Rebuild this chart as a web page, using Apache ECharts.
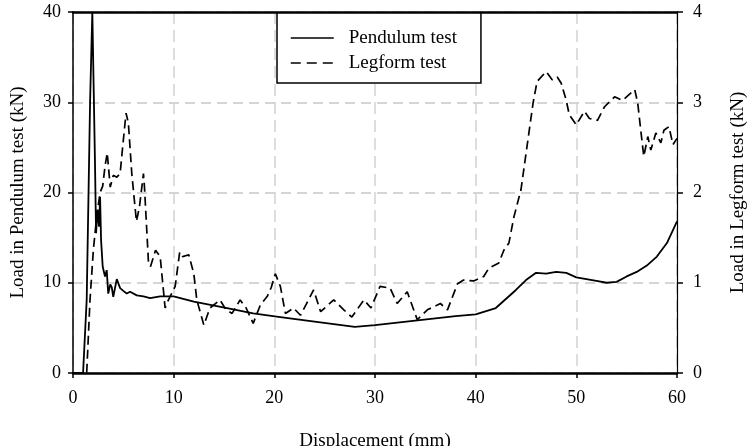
<!DOCTYPE html>
<html>
<head>
<meta charset="utf-8">
<script src="https://cdn.jsdelivr.net/npm/echarts@6/dist/echarts.min.js"></script>
<style>html,body{margin:0;padding:0;background:#fff;}#c{width:748px;height:446px;}</style>
</head>
<body>
<div id="c"></div>
<script>
// Pendulum test (left axis, kN)
var pendX = [0, 1.0, 1.36, 1.7, 1.92, 2.09, 2.19, 2.29, 2.45, 2.59, 2.69, 2.79, 2.95, 3.18, 3.35, 3.5, 3.7, 3.85, 4.0, 4.35, 4.68, 5.0, 5.34, 5.67, 6.34, 7.0, 7.66, 8.66, 10.0, 12.0, 15.3, 17.9, 20.6, 24, 28, 30, 34, 38, 40, 42, 44, 45, 46, 47, 48, 49, 50, 51, 52, 53, 54, 55, 56, 57, 58, 59, 60];
var pendY = [0, 0, 8.1, 30.2, 40, 40, 22.9, 15.5, 18.1, 16.2, 19.5, 14.7, 11.8, 10.7, 11.4, 8.8, 9.8, 9.5, 8.45, 10.4, 9.4, 9.1, 8.8, 9.0, 8.6, 8.5, 8.3, 8.5, 8.5, 7.9, 7.2, 6.6, 6.2, 5.7, 5.1, 5.3, 5.8, 6.3, 6.5, 7.2, 9.2, 10.3, 11.1, 11.0, 11.2, 11.1, 10.6, 10.4, 10.2, 10.0, 10.1, 10.7, 11.2, 11.9, 12.9, 14.4, 16.8];
// Legform test (right axis, kN)
var legX = [0, 1.36, 1.69, 2.02, 2.35, 2.69, 2.95, 3.18, 3.4, 3.7, 4.0, 4.35, 4.68, 5.0, 5.27, 5.5, 5.84, 6.3, 6.6, 7.0, 7.1, 7.5, 7.7, 8.2, 8.66, 9.15, 9.4, 10.15, 10.6, 10.9, 11.5, 12.0, 12.3, 13.0, 13.6, 14.6, 15.2, 15.8, 16.6, 17.2, 17.9, 18.6, 19.3, 19.7, 20.1, 20.6, 21.1, 21.9, 22.6, 23.9, 24.6, 25.9, 26.9, 27.7, 28.9, 29.6, 30.5, 31.5, 32.2, 33.2, 34.2, 35.2, 36.5, 37.2, 38.2, 38.8, 39.8, 40.8, 41.3, 42.3, 42.8, 43.3, 43.8, 44.5, 45.1, 45.7, 46.1, 47.0, 47.6, 48.1, 48.5, 49.0, 49.3, 50.0, 50.8, 51.3, 52.1, 52.8, 53.8, 54.6, 55.8, 56.1, 56.4, 56.7, 57.1, 57.4, 57.9, 58.4, 58.7, 59.2, 59.6, 60.0];
var legY = [0, 0, 0.81, 1.36, 1.73, 2.0, 2.07, 2.29, 2.44, 2.06, 2.19, 2.17, 2.21, 2.58, 2.88, 2.77, 2.21, 1.68, 1.84, 2.21, 2.06, 1.22, 1.18, 1.36, 1.29, 0.72, 0.79, 0.96, 1.34, 1.29, 1.31, 1.10, 0.81, 0.53, 0.72, 0.81, 0.70, 0.66, 0.81, 0.72, 0.55, 0.75, 0.85, 0.95, 1.10, 0.96, 0.66, 0.72, 0.64, 0.92, 0.68, 0.81, 0.70, 0.62, 0.81, 0.72, 0.96, 0.94, 0.77, 0.90, 0.59, 0.70, 0.77, 0.70, 0.99, 1.03, 1.02, 1.07, 1.16, 1.22, 1.36, 1.44, 1.73, 2.03, 2.51, 2.99, 3.23, 3.34, 3.25, 3.28, 3.21, 3.02, 2.86, 2.75, 2.90, 2.82, 2.80, 2.95, 3.06, 3.02, 3.14, 2.99, 2.69, 2.40, 2.62, 2.47, 2.66, 2.55, 2.69, 2.73, 2.53, 2.60];
var xTicks = [0, 10, 20, 30, 40, 50, 60];
var leftTicks = [0, 10, 20, 30, 40];
var rightTicks = [0, 1, 2, 3, 4];

function pairs(xs, ys) { return xs.map(function (x, i) { return [x, ys[i]]; }); }

var font = 'Liberation Serif, Times New Roman, serif';
var chart = echarts.init(document.getElementById('c'), null, { renderer: 'canvas' });
chart.setOption({
  animation: false,
  backgroundColor: '#fff',
  grid: { left: 73, right: 71, top: 12, bottom: 73, containLabel: false, outerBoundsMode: 'none' },
  legend: {
    orient: 'vertical',
    left: 277, top: 13,
    padding: [15, 24, 10, 13],
    itemGap: 5,
    itemWidth: 43, itemHeight: 14,
    borderColor: '#000', borderWidth: 1.5,
    backgroundColor: '#fff',
    itemStyle: { opacity: 0 },
    textStyle: { fontFamily: font, fontSize: 19, color: '#000', lineHeight: 20, padding: [0, 0, 0, 10] },
    data: [
      { name: 'Pendulum test', lineStyle: { color: '#000', width: 1.5, type: 'solid' } },
      { name: 'Legform test', lineStyle: { color: '#000', width: 1.5, type: [10, 6] } }
    ]
  },
  xAxis: [{
    type: 'value', min: xTicks[0], max: xTicks[xTicks.length - 1], interval: 10,
    name: 'Displacement (mm)', nameLocation: 'middle', nameGap: 59,
    nameTextStyle: { fontFamily: font, fontSize: 19, color: '#000' },
    axisLine: { show: true, onZero: false, lineStyle: { color: '#000', width: 2.5 } },
    axisTick: { show: true, inside: false, length: 5, lineStyle: { color: '#000', width: 1.5 } },
    axisLabel: { fontFamily: font, fontSize: 18, color: '#000', margin: 16 },
    splitLine: { show: true, lineStyle: { color: '#d2d2d2', width: 1.5, type: [12, 6] } }
  }, {
    type: 'value', position: 'top', min: 0, max: 60, interval: 10,
    axisLine: { show: true, onZero: false, lineStyle: { color: '#000', width: 2.5 } },
    axisTick: { show: false }, axisLabel: { show: false }, splitLine: { show: false }
  }],
  yAxis: [{
    type: 'value', min: leftTicks[0], max: leftTicks[leftTicks.length - 1], interval: 10,
    name: 'Load in Pendulum test (kN)', nameLocation: 'middle', nameGap: 45, nameRotate: 90,
    nameTextStyle: { fontFamily: font, fontSize: 19, color: '#000' },
    axisLine: { show: true, onZero: false, lineStyle: { color: '#000', width: 1.5 } },
    axisTick: { show: true, length: 5, lineStyle: { color: '#000', width: 1.5 } },
    axisLabel: { fontFamily: font, fontSize: 18, color: '#000', margin: 12 },
    splitLine: { show: true, lineStyle: { color: '#c8c8c8', width: 1.5, type: [10, 6] } }
  }, {
    type: 'value', position: 'right', min: rightTicks[0], max: rightTicks[rightTicks.length - 1], interval: 1,
    name: 'Load in Legform test (kN)', nameLocation: 'middle', nameGap: 52, nameRotate: 90,
    nameTextStyle: { fontFamily: font, fontSize: 19, color: '#000' },
    axisLine: { show: true, onZero: false, lineStyle: { color: '#000', width: 1.2 } },
    axisTick: { show: true, length: 6, lineStyle: { color: '#000', width: 1.5 } },
    axisLabel: { fontFamily: font, fontSize: 18, color: '#000', margin: 16 },
    splitLine: { show: false }
  }],
  series: [{
    name: 'Pendulum test', type: 'line', xAxisIndex: 0, yAxisIndex: 0,
    data: pairs(pendX, pendY), showSymbol: false, symbol: 'none',
    lineStyle: { color: '#000', width: 1.8, type: 'solid' }, itemStyle: { color: '#000' },
    clip: true
  }, {
    name: 'Legform test', type: 'line', xAxisIndex: 0, yAxisIndex: 1,
    data: pairs(legX, legY), showSymbol: false, symbol: 'none',
    lineStyle: { color: '#000', width: 1.7, type: [9, 5] }, itemStyle: { color: '#000' },
    clip: true
  }]
});
</script>
</body>
</html>
